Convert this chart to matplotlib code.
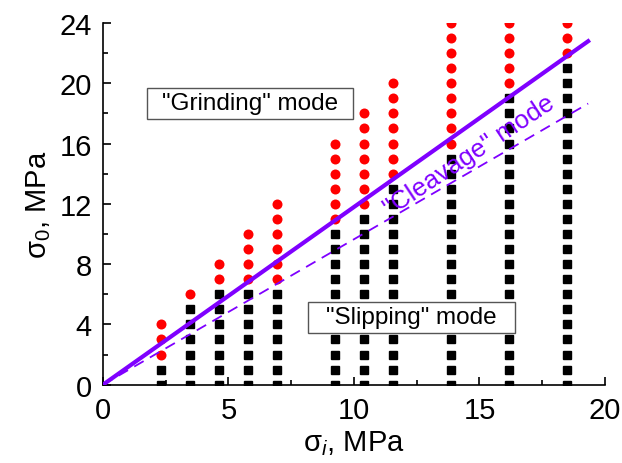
import matplotlib
matplotlib.use("Agg")
import matplotlib.pyplot as plt
from matplotlib.patches import Rectangle
from matplotlib.ticker import MultipleLocator

plt.rcParams["font.family"] = ["Liberation Sans", "DejaVu Sans"]
plt.rcParams["mathtext.fontset"] = "custom"
plt.rcParams["mathtext.rm"] = "Liberation Sans"
plt.rcParams["mathtext.it"] = "Liberation Sans:italic"

# sigma_i of each test column, MPa
sigma_i = [2.31, 3.47, 4.63, 5.78, 6.94, 9.25, 10.41, 11.57, 13.88, 16.19, 18.5]
# highest "slipping" level (black squares from 0 up to this)
slip_top = [1, 5, 6, 6, 6, 10, 11, 13, 15, 19, 21]
# red circles from grind_low up to grind_top
grind_low = [2, 6, 7, 7, 7, 11, 12, 14, 16, 20, 22]
grind_top = [4, 6, 8, 10, 12, 16, 18, 20, 24, 24, 24]

line_x = [0, 19.33]
slope_solid = 1.179
slope_dash = 0.965
purple = "#7F00FF"

fig = plt.figure(figsize=(6.22, 4.64), dpi=100)
ax = fig.add_axes([0.1656, 0.1688, 0.807, 0.7795])

for x, s, lo, hi in zip(sigma_i, slip_top, grind_low, grind_top):
    ys = list(range(0, s + 1))
    ax.plot([x] * len(ys), ys, ls="none", marker="s", ms=6, color="black", zorder=3)
    yr = list(range(lo, hi + 1))
    ax.plot([x] * len(yr), yr, ls="none", marker="o", ms=7.2, color="red", mec="none", zorder=3)

ax.plot(line_x, [v * slope_solid for v in line_x], color=purple, lw=3, zorder=4)
ax.plot(line_x, [v * slope_dash for v in line_x], color=purple, lw=1.3, ls=(0, (6, 4)), zorder=4)

ax.text(14.6, 15.25, '"Cleavage" mode', color=purple, fontsize=18.5, rotation=33.5,
        ha="center", va="center", rotation_mode="anchor", zorder=5)

for (x0, x1, y0, y1, label) in [(1.75, 9.96, 17.63, 19.69, '"Grinding" mode'),
                                (8.17, 16.41, 3.43, 5.49, '"Slipping" mode')]:
    ax.add_patch(Rectangle((x0, y0), x1 - x0, y1 - y0, facecolor="white",
                           edgecolor="#555555", lw=1, zorder=6))
    ax.text((x0 + x1) / 2, (y0 + y1) / 2, label, fontsize=17.5, ha="center", va="center", zorder=7)

ax.set_xlim(0, 20)
ax.set_ylim(0, 24)
ax.xaxis.set_major_locator(MultipleLocator(5))
ax.xaxis.set_minor_locator(MultipleLocator(2.5))
ax.yaxis.set_major_locator(MultipleLocator(4))
ax.yaxis.set_minor_locator(MultipleLocator(2))
ax.tick_params(which="both", direction="in", width=1.2, labelsize=21)
ax.tick_params(which="major", length=6, pad=8)
ax.tick_params(which="minor", length=3.5)
for side in ["top", "right"]:
    ax.spines[side].set_visible(False)
for side in ["left", "bottom"]:
    ax.spines[side].set_linewidth(1.2)

ax.set_xlabel(r"$\mathrm{\sigma}_{\mathit{i}}$, MPa", fontsize=21, labelpad=3)
ax.set_ylabel(r"$\mathrm{\sigma}_{0}$, MPa", fontsize=21, labelpad=5)

fig.savefig("out.png", dpi=100)
